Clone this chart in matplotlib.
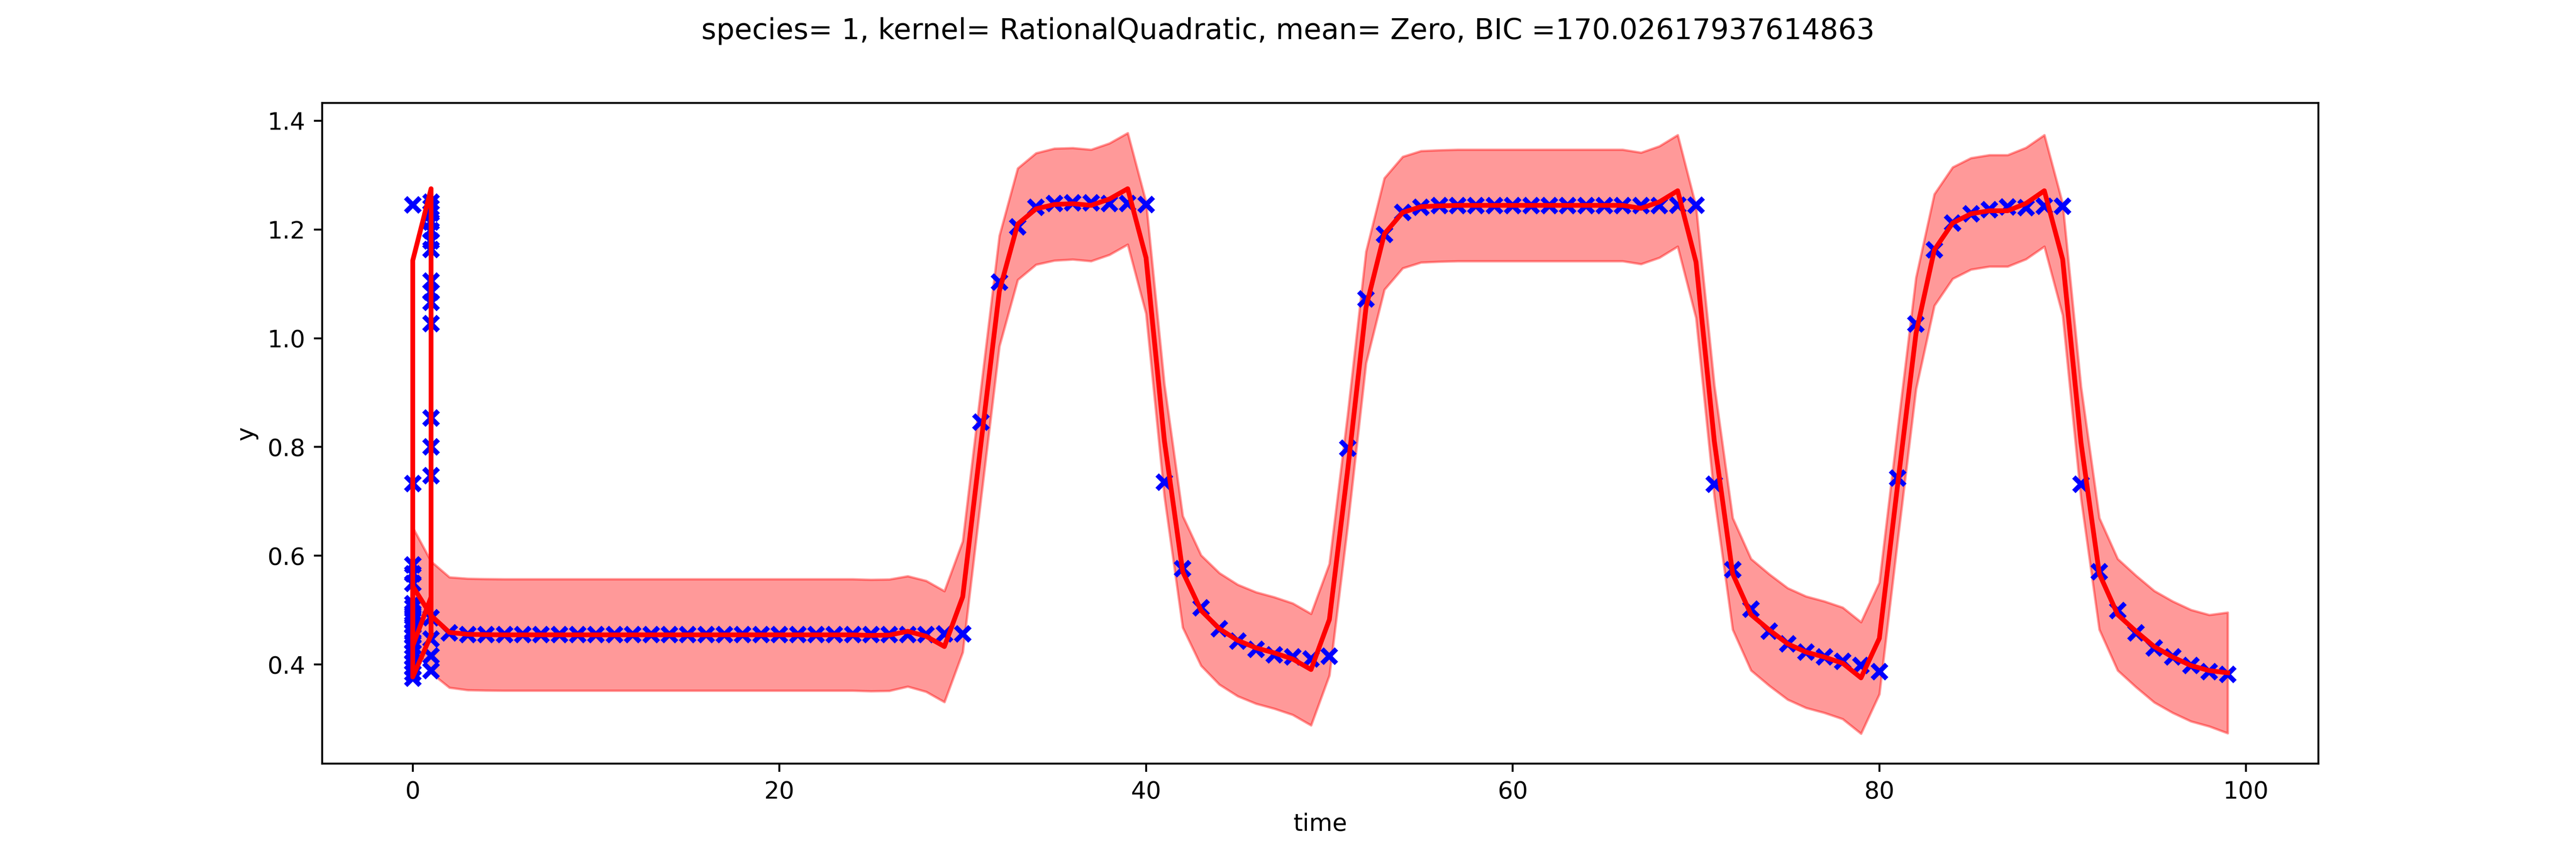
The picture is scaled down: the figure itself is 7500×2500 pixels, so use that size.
import numpy as np
import matplotlib
matplotlib.use("Agg")
import matplotlib.pyplot as plt

# observed points at t=0 and t=1 (several replicates)
obs_t0 = [1.245, 0.733, 0.583, 0.567, 0.549, 0.512, 0.505, 0.495, 0.488, 0.481,
          0.471, 0.459, 0.452, 0.442, 0.433, 0.423, 0.413, 0.404, 0.394, 0.384, 0.375]
obs_t1 = [1.25, 1.24, 1.23, 1.214, 1.198, 1.179, 1.163, 1.105, 1.085, 1.066,
          1.027, 0.853, 0.80, 0.747, 0.486, 0.447, 0.416, 0.389]

# observed points t=2..99
obs_y = [0.458, 0.455, 0.455, 0.455, 0.455, 0.455, 0.455, 0.455, 0.455, 0.455,
         0.455, 0.455, 0.455, 0.455, 0.455, 0.455, 0.455, 0.455, 0.455, 0.455,
         0.455, 0.455, 0.455, 0.455, 0.455, 0.455, 0.455, 0.456, 0.456, 0.846,
         1.103, 1.205, 1.2406, 1.248, 1.249, 1.249, 1.248, 1.248, 1.246, 0.735,
         0.576, 0.504, 0.4655, 0.443, 0.4277, 0.4176, 0.4137, 0.41, 0.415, 0.798,
         1.072, 1.191, 1.2314, 1.241, 1.2437, 1.244, 1.244, 1.244, 1.244, 1.244,
         1.244, 1.244, 1.244, 1.244, 1.244, 1.244, 1.244, 1.2445, 1.2445, 0.7315,
         0.5744, 0.5017, 0.461, 0.438, 0.4228, 0.4137, 0.406, 0.398, 0.387, 0.743,
         1.0265, 1.1625, 1.212, 1.229, 1.2367, 1.2412, 1.240, 1.243, 1.243, 0.7315,
         0.5706, 0.4994, 0.458, 0.4305, 0.4137, 0.398, 0.387, 0.3815]

# GP mean in prediction order: first the replicate jumble at t=0/1, then t=2..99
fit_start_t = [1, 0, 0, 1, 1, 1, 0, 0, 1]
fit_start_y = [0.454, 0.377, 1.143, 1.275, 0.454, 0.524, 0.434, 0.544, 0.49]
fit_y = [0.459, 0.4555, 0.4548, 0.4545, 0.4545, 0.4545, 0.4545, 0.4545, 0.4545, 0.4545,
         0.4545, 0.4545, 0.4545, 0.4545, 0.4545, 0.4545, 0.4545, 0.4545, 0.4545, 0.4545,
         0.4545, 0.4545, 0.4545, 0.4535, 0.4541, 0.461, 0.452, 0.433, 0.5246, 0.808,
         1.087, 1.21, 1.238, 1.246, 1.2475, 1.2444, 1.256, 1.275, 1.148, 0.812,
         0.5706, 0.4994, 0.4657, 0.4443, 0.4305, 0.4213, 0.41, 0.3907, 0.4826, 0.758,
         1.057, 1.192, 1.2314, 1.242, 1.2435, 1.2444, 1.2444, 1.2444, 1.2444, 1.2444,
         1.2444, 1.2444, 1.2444, 1.2444, 1.2444, 1.239, 1.2507, 1.2713, 1.14, 0.8104,
         0.5668, 0.4917, 0.4634, 0.438, 0.4228, 0.4137, 0.4023, 0.3754, 0.448, 0.731,
         1.009, 1.1625, 1.212, 1.229, 1.2345, 1.2345, 1.248, 1.2713, 1.145, 0.808,
         0.5668, 0.4917, 0.461, 0.4328, 0.4137, 0.398, 0.3887, 0.3847]

# confidence band: centre at t=0,1 and half width for t=0..99
band_start = [0.548, 0.487]
band_half = [0.104, 0.1025, 0.1015, 0.1025, 0.1025, 0.1025, 0.1025, 0.1025, 0.1025, 0.1025,
             0.1025, 0.1025, 0.1025, 0.1025, 0.1025, 0.1025, 0.1025, 0.1025, 0.1025, 0.1025,
             0.1025, 0.1025, 0.1025, 0.1025, 0.1025, 0.1025, 0.1025, 0.1015, 0.102, 0.102,
             0.102, 0.1015, 0.1015, 0.1025, 0.1025, 0.103, 0.1025, 0.1025, 0.1025, 0.1025,
             0.1025, 0.103, 0.1025, 0.1015, 0.1025, 0.1025, 0.1025, 0.1025, 0.1025, 0.1025,
             0.1025, 0.1025, 0.1025, 0.1025, 0.1025, 0.1025, 0.1025, 0.1025, 0.1025, 0.1025,
             0.1025, 0.1025, 0.1025, 0.1025, 0.1025, 0.1025, 0.1025, 0.1025, 0.1025, 0.1025,
             0.1025, 0.1025, 0.1025, 0.1025, 0.1025, 0.1025, 0.1025, 0.1025, 0.1025, 0.1025,
             0.1025, 0.1025, 0.1025, 0.1025, 0.1025, 0.1025, 0.1025, 0.1025, 0.1025, 0.1025,
             0.1025, 0.1025, 0.1025, 0.1025, 0.1025, 0.1025, 0.1025, 0.1025, 0.1025, 0.111]

title = "species= 1, kernel= RationalQuadratic, mean= Zero, BIC =170.02617937614863"

days = np.arange(2, 100)
x_obs = [0] * len(obs_t0) + [1] * len(obs_t1) + list(days)
y_obs = obs_t0 + obs_t1 + obs_y
x_fit = fit_start_t + list(days)
y_fit = fit_start_y + fit_y

band_t = np.arange(100)
band_mid = np.array(band_start + fit_y)
band_half = np.array(band_half)

fig = plt.figure(figsize=(15, 5), dpi=500)
ax = fig.add_subplot(111)
ax.fill_between(band_t, band_mid - band_half, band_mid + band_half, color='r', alpha=0.4)
ax.plot(x_obs, y_obs, 'bx', mew=2)
ax.plot(x_fit, y_fit, 'r', lw=2)
ax.set_xlabel("time")
ax.set_ylabel("y")
fig.suptitle(title)

fig.savefig("out.png")
